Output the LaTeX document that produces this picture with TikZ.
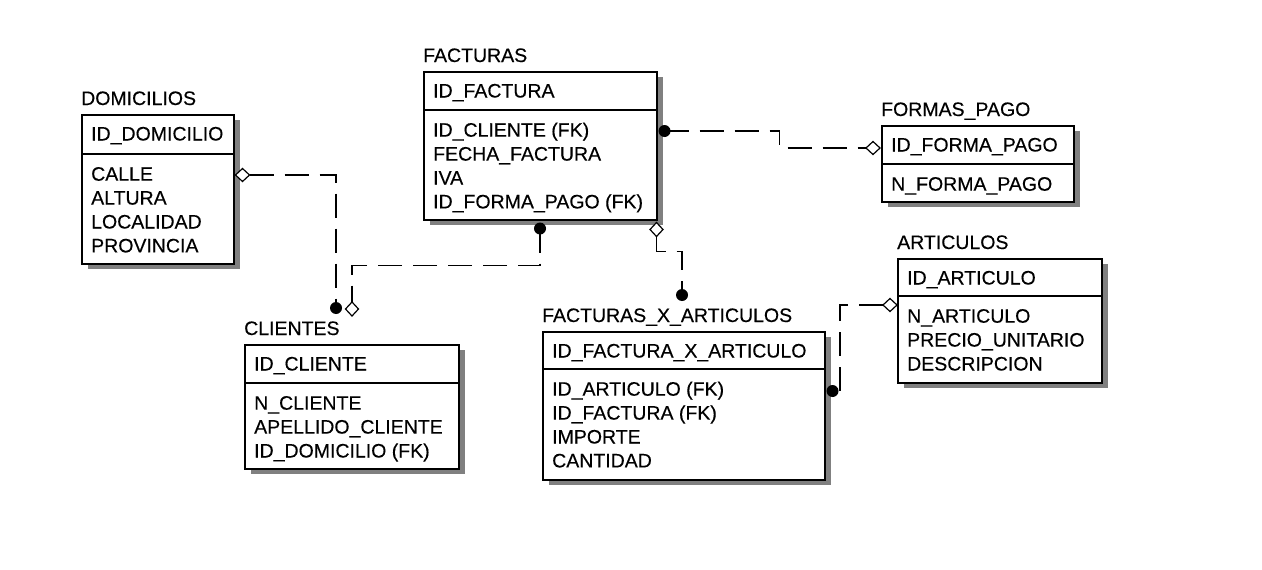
\documentclass[tikz,border=0pt]{standalone}
\usepackage{fontspec}
\setmainfont[FakeBold=0.3,AutoFakeBold=0.3]{Liberation Sans}
\usetikzlibrary{calc,shadows}
\newcommand\erfont{\fontsize{19.5pt}{24pt}\selectfont}
\tikzset{
  entbox/.style={draw, line width=1.5pt, fill=white, inner sep=0pt, anchor=north west,
    drop shadow={shadow xshift=6pt, shadow yshift=-5pt, fill=black!50, opacity=1}},
  lbl/.style={inner sep=0pt, anchor=base west, font=\erfont, text=black},
  divline/.style={line width=1.5pt},
  rel/.style={line width=1.7pt, dash pattern=on 24pt off 11pt},
  diam/.style={draw, line width=1.2pt, fill=white},
  dotend/.style={fill=black}
}
% #1 name, #2 x, #3 y, #4 width, #5 height, #6 divider offset, #7 title, #8 key, #9 attributes
\newcommand\erent[9]{%
  \node[entbox, minimum width=#4pt, minimum height=#5pt] (#1) at (#2,#3) {};
  \draw[divline] ($(#1.north west)+(0,#6)$) -- ($(#1.north east)+(0,#6)$);
  \node[lbl] (#1-t) at ($(#1.north west)+(0,-9)$) {#7};
  \node[lbl] (#1-k) at ($(#1.north west)+(10,26.5)$) {#8};
  \foreach \t [count=\i from 0] in {#9} {
    \node[lbl] (#1-\i) at ($(#1.north west)+(10,{#6+26.7+23.9*\i})$) {\t};
  }
}
\begin{document}
\begin{tikzpicture}[x=1pt, y=-1pt]
\useasboundingbox[fill=white] (0,0) rectangle (1262,570);

\erent{dom}{81}{114}{152}{149}{40}{DOMICILIOS}{ID\_DOMICILIO}{CALLE,ALTURA,LOCALIDAD,PROVINCIA}
\erent{fac}{423}{71}{233}{148}{39}{FACTURAS}{ID\_FACTURA}{ID\_CLIENTE (FK),FECHA\_FACTURA,IVA,ID\_FORMA\_PAGO (FK)}
\erent{fp}{881}{125}{192}{76}{39}{FORMAS\_PAGO}{ID\_FORMA\_PAGO}{N\_FORMA\_PAGO}
\erent{art}{897}{258}{204}{124}{38}{ARTICULOS}{ID\_ARTICULO}{N\_ARTICULO,PRECIO\_UNITARIO,DESCRIPCION}
\erent{cli}{244}{344}{214}{124}{39}{CLIENTES}{ID\_CLIENTE}{N\_CLIENTE,APELLIDO\_CLIENTE,ID\_DOMICILIO (FK)}
\erent{fxa}{542}{331}{282}{148}{38}{FACTURAS\_X\_ARTICULOS}{ID\_FACTURA\_X\_ARTICULO}{ID\_ARTICULO (FK),ID\_FACTURA (FK),IMPORTE,CANTIDAD}

% 1: DOMICILIOS -> CLIENTES
\coordinate (r1p) at ($(dom.north east)+(0,61)$);
\coordinate (r1c) at ($(cli.north west)+(92,-36)$);
\draw[rel] ($(r1p)+(15,0)$) -| ($(r1c)+(0,-5)$);
\draw[diam] ($(r1p)+(1,0)$) -- ++(7,-6.5) -- ++(7,6.5) -- ++(-7,6.5) -- cycle;
\fill[dotend] (r1c) circle (6pt);

% 2: CLIENTES -> FACTURAS
\coordinate (r2c) at ($(fac.south west)+(117,8)$);
\coordinate (r2p) at ($(cli.north west)+(108,-35)$);
\draw[rel] (r2c) -- ++(0,37) -| ($(r2p)+(0,-7)$);
\fill[dotend] (r2c) circle (6pt);
\draw[diam] ($(r2p)+(0,-7)$) -- ++(6.5,7) -- ++(-6.5,7) -- ++(-6.5,-7) -- cycle;

% 3: FORMAS_PAGO -> FACTURAS
\coordinate (r3c) at ($(fac.north east)+(7,60)$);
\coordinate (r3p) at ($(fp.north west)+(-8,23)$);
\draw[rel] (r3c) -- ++(115,0) |- ($(r3p)+(-7,0)$);
\fill[dotend] (r3c) circle (6pt);
\draw[diam] ($(r3p)+(-7,0)$) -- ++(7,-6.5) -- ++(7,6.5) -- ++(-7,6.5) -- cycle;

% 4: FACTURAS -> FACTURAS_X_ARTICULOS
\coordinate (r4p) at ($(fac.south east)+(-1,9)$);
\coordinate (r4c) at ($(fxa.north west)+(140,-36)$);
\draw[rel] ($(r4p)+(0,7)$) -- ++(0,15) -| (r4c);
\draw[diam] ($(r4p)+(0,-7)$) -- ++(6.5,7) -- ++(-6.5,7) -- ++(-6.5,-7) -- cycle;
\fill[dotend] (r4c) circle (6pt);

% 5: ARTICULOS -> FACTURAS_X_ARTICULOS
\coordinate (r5p) at ($(art.north west)+(-7,47)$);
\coordinate (r5c) at ($(fxa.north east)+(7,60)$);
\draw[rel] ($(r5p)+(-7,0)$) -- ++(-43,0) |- (r5c);
\draw[diam] ($(r5p)+(-7,0)$) -- ++(7,-6.5) -- ++(7,6.5) -- ++(-7,6.5) -- cycle;
\fill[dotend] (r5c) circle (6pt);
\end{tikzpicture}
\end{document}
